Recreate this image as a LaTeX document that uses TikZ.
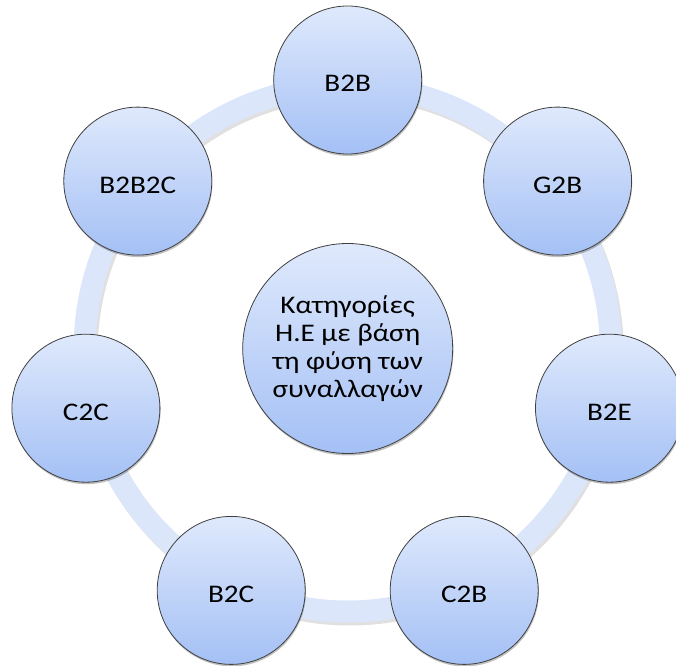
\documentclass[tikz,border=0pt]{standalone}
\usepackage{fontspec}
\setmainfont[FakeStretch=1.15]{Carlito}
\usetikzlibrary{shadows}
\definecolor{topc}{HTML}{DFE9FC}
\definecolor{botc}{HTML}{A4C0F5}
\definecolor{ringc}{HTML}{DCE6FA}
\begin{document}
\begin{tikzpicture}[x=0.75pt,y=-0.75pt,
  bubble/.style={circle, draw=black!75, line width=0.6pt, top color=topc, bottom color=botc,
    minimum size=148*0.75pt, inner sep=0pt, font=\fontsize{19}{21}\selectfont, align=center,
    drop shadow={shadow xshift=0.5pt, shadow yshift=-1.5pt, opacity=0.25, fill=black}},
  outer/.style={bubble, text height=18pt, text depth=0pt},
  hub/.style={bubble, minimum size=210*0.75pt}]
\useasboundingbox (0,0) rectangle (676,666);
\coordinate (C) at (347.7,348.5);
\coordinate (Cs) at (349.7,351.5);
\draw[black, opacity=0.12, line width=16.5pt] (Cs) circle[radius=263];
\draw[ringc, line width=16.5pt] (C) circle[radius=263];
\node[hub] (hub) at (C) {Κατηγορίες\\Η.Ε με βάση\\τη φύση των\\συναλλαγών};
\node[outer] (b2b) at (347.7,80) {B2B};
\node[outer] (g2b) at (557.6,181.1) {G2B};
\node[outer] (b2e) at (609.5,408.2) {B2E};
\node[outer] (c2b) at (464.2,590.4) {C2B};
\node[outer] (b2c) at (231.2,590.4) {B2C};
\node[outer] (c2c) at (85.9,408.2) {C2C};
\node[outer] (b2b2c) at (137.8,181.1) {B2B2C};
\end{tikzpicture}
\end{document}
